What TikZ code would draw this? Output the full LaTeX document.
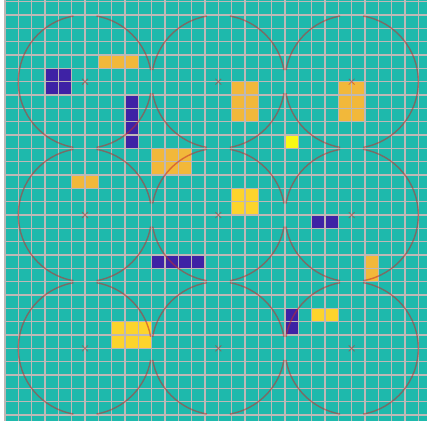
\documentclass[tikz,border=0pt]{standalone}
\begin{document}
\begin{tikzpicture}[x=0.3333cm, y=0.3333cm]
    \definecolor{bgTeal}{RGB}{30,185,172}
    \definecolor{cellBlue}{RGB}{62,34,165}
    \definecolor{cellOrange}{RGB}{242,184,58}
    \definecolor{cellGold}{RGB}{252,212,44}
    \definecolor{cellYellow}{RGB}{249,249,20}
    \definecolor{gridColour}{RGB}{190,184,182}
    \definecolor{ringColour}{RGB}{195,45,45}

    \tikzset{
        gridLine/.style={gridColour, line width=0.9pt},
        ring/.style={ringColour, draw opacity=0.55, line width=1pt},
        centreMark/.style={ringColour, draw opacity=0.55, line width=0.6pt}
    }

    \def\cellMax{31}
    \def\ringRadius{5}
    \def\gapAngle{10}

    % Page and background
    \useasboundingbox (-0.375,0.1275) rectangle (31.65,-31.45);
    \fill[white] (-0.375,0.1275) rectangle (31.65,-31.45);
    \fill[bgTeal] (-0.1,0.1275) rectangle (31.65,-31.45);

    % Coloured cells: column/row/width/height
    \foreach \c/\r/\w/\h in {3/5/2/2, 9/7/1/4, 11/19/4/1, 23/16/2/1, 21/23/1/2}
        \fill[cellBlue] (\c,-\r) rectangle ++(\w,-\h);
    \foreach \c/\r/\w/\h in {7/4/3/1, 11/11/3/2, 5/13/2/1, 17/6/2/3, 25/6/2/3, 27/19/1/2}
        \fill[cellOrange] (\c,-\r) rectangle ++(\w,-\h);
    \foreach \c/\r/\w/\h in {17/14/2/2, 8/24/3/2, 23/23/2/1}
        \fill[cellGold] (\c,-\r) rectangle ++(\w,-\h);
    \fill[cellYellow] (21,-10) rectangle ++(1,-1);

    % Draw grid
    \foreach \k in {0,...,\cellMax} {
        \draw[gridLine] (\k,0.1275) -- (\k,-31.45);
        \draw[gridLine] (-0.1,-\k) -- (31.65,-\k);
    }

    % Rings, open at top, bottom and where they touch
    \foreach \cx/\gl/\gr in {6/0/10, 16/10/10, 26/10/0}
        \foreach \cy in {6,16,26} {
            \coordinate (m-\cx-\cy) at (\cx,-\cy);
            \draw[ring] (m-\cx-\cy) ++({\gr}:\ringRadius)
                arc[start angle=\gr, end angle=90-\gapAngle, radius=\ringRadius];
            \draw[ring] (m-\cx-\cy) ++({90+\gapAngle}:\ringRadius)
                arc[start angle=90+\gapAngle, end angle=180-\gl, radius=\ringRadius];
            \draw[ring] (m-\cx-\cy) ++({180+\gl}:\ringRadius)
                arc[start angle=180+\gl, end angle=270-\gapAngle, radius=\ringRadius];
            \draw[ring] (m-\cx-\cy) ++({270+\gapAngle}:\ringRadius)
                arc[start angle=270+\gapAngle, end angle=360-\gr, radius=\ringRadius];
            % Mark centre
            \draw[centreMark] (m-\cx-\cy) ++(-0.22,-0.22) -- ++(0.44,0.44)
                ++(-0.44,0) -- ++(0.44,-0.44);
        }

\end{tikzpicture}
\end{document}
